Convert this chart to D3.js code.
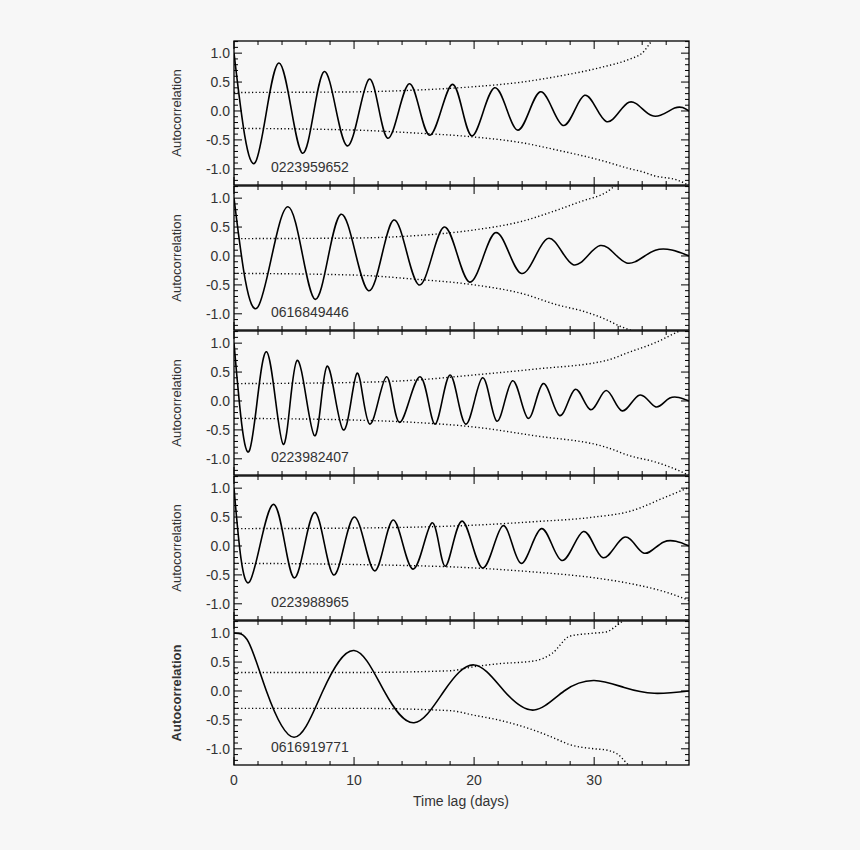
<!DOCTYPE html><html><head><meta charset="utf-8">
<script src="https://cdn.jsdelivr.net/npm/d3@7"></script>
<style>body{margin:0;background:#f7f7f7}svg{font-family:"Liberation Sans",Arial,sans-serif}</style></head><body>
<svg id="c" width="860" height="850"></svg>
<script>
const ids=["0223959652","0616849446","0223982407","0223988965","0616919771"];
const xTicks=[0,10,20,30], yTicks=[1.0,0.5,0.0,-0.5,-1.0];
// curve extrema [lag, acf]
const acf1=[[0,1],[1.8,-0.88],[3.75,0.83],[5.7,-0.73],[7.5,0.68],[9.4,-0.6],[11.25,0.55],[12.8,-0.47],[14.6,0.47],[16.3,-0.42],[18.2,0.46],[19.8,-0.43],[21.7,0.4],[23.6,-0.33],[25.5,0.33],[27.4,-0.25],[29.2,0.27],[31,-0.18],[32.9,0.15],[34.8,-0.08],[36.7,0.05],[37.9,0.0]];
const acf2=[[0,1],[2,-0.88],[4.5,0.85],[6.75,-0.75],[8.9,0.72],[11.2,-0.6],[13.3,0.62],[15.4,-0.5],[17.5,0.5],[19.6,-0.45],[21.75,0.4],[23.9,-0.3],[26.1,0.3],[28.25,-0.15],[30.5,0.18],[32.7,-0.12],[35.1,0.1],[37.9,0.0]];
const acf3=[[0,1],[1.3,-0.85],[2.7,0.85],[4.1,-0.75],[5.25,0.7],[6.7,-0.6],[7.75,0.6],[9.1,-0.5],[10.25,0.48],[11.3,-0.4],[12.7,0.42],[13.8,-0.37],[15.5,0.42],[16.75,-0.4],[18,0.45],[19.3,-0.4],[20.7,0.4],[21.9,-0.35],[23.2,0.35],[24.5,-0.3],[25.75,0.3],[27.1,-0.25],[28.4,0.2],[29.7,-0.15],[31,0.18],[32.3,-0.17],[33.75,0.1],[35.1,-0.1],[36.3,0.05],[37.9,0.0]];
const acf4=[[0,1],[1.3,-0.62],[3.3,0.72],[5,-0.55],[6.7,0.58],[8.3,-0.5],[10,0.5],[11.7,-0.43],[13.25,0.45],[14.9,-0.4],[16.5,0.4],[17.6,-0.35],[19,0.43],[20.7,-0.38],[22.4,0.35],[23.9,-0.3],[25.6,0.3],[27.3,-0.25],[29.1,0.25],[30.7,-0.2],[32.5,0.15],[34.1,-0.12],[35.8,0.07],[37.9,0.0]];
const acf5=[[0,1],[1.2,0.85],[2.7,0.0],[5,-0.8],[7.4,0.0],[10,0.7],[12.5,0.0],[15,-0.55],[17.5,0.0],[20,0.45],[22.5,0.0],[25,-0.33],[27.5,0.0],[30,0.18],[32.5,0.06],[35,-0.04],[37.9,0.0]];
// significance envelopes [lag, upper, lower]
const sig1=[[0,0.32,-0.3],[10,0.33,-0.33],[15,0.36,-0.38],[20,0.42,-0.45],[24,0.5,-0.55],[27,0.6,-0.68],[30.5,0.75,-0.85],[33,0.9,-1.0],[34,1.0,-1.05],[35,1.25,-1.12],[37,1.4,-1.2],[38,1.5,-1.3]];
const sig2=[[0,0.3,-0.3],[10,0.31,-0.33],[15,0.35,-0.4],[20,0.45,-0.5],[24,0.6,-0.65],[27,0.8,-0.85],[29,0.95,-0.95],[31,1.1,-1.1],[32,1.25,-1.2],[34,1.4,-1.35],[38,1.6,-1.5]];
const sig3=[[0,0.3,-0.3],[10,0.32,-0.33],[15,0.36,-0.37],[20,0.45,-0.45],[25,0.55,-0.6],[31,0.7,-0.8],[33,0.85,-0.95],[35,1.0,-1.05],[37,1.2,-1.2],[38,1.3,-1.3]];
const sig4=[[0,0.3,-0.3],[10,0.31,-0.32],[20,0.36,-0.38],[25,0.42,-0.45],[30,0.5,-0.55],[33,0.6,-0.65],[36,0.85,-0.8],[38,1.02,-0.95]];
const sig5=[[0,0.32,-0.3],[10,0.32,-0.3],[18,0.35,-0.34],[20,0.42,-0.42],[22,0.47,-0.5],[25,0.52,-0.68],[26.5,0.65,-0.8],[28,0.95,-0.93],[30,1.0,-1.0],[31,1.02,-1.02],[32,1.15,-1.1],[33,1.3,-1.3],[38,1.5,-1.6]];
const curves=[acf1,acf2,acf3,acf4,acf5], sigs=[sig1,sig2,sig3,sig4,sig5];

const svg=d3.select("#c");
const L=234,R=689,tops=[41,186,331,476,621],H=144;
const x=d3.scaleLinear().domain([0,37.9]).range([L,R]);
const clip=svg.append("defs");
const tc="#333";
tops.forEach((t,i)=>{
  const y=d3.scaleLinear().domain([-1.28,1.21]).range([t+H,t]);
  clip.append("clipPath").attr("id","cp"+i).append("rect").attr("x",L).attr("y",t).attr("width",R-L).attr("height",H);
  const g=svg.append("g");
  const pg=g.append("g").attr("clip-path",`url(#cp${i})`);
  pg.append("path").datum(curves[i]).attr("fill","none").attr("stroke","#000").attr("stroke-width",1.6)
    .attr("d",d3.line().x(d=>x(d[0])).y(d=>y(d[1])).curve(d3.curveNatural));
  [1,2].forEach(k=>pg.append("path").datum(sigs[i]).attr("fill","none").attr("stroke","#000").attr("stroke-width",1.4).attr("stroke-dasharray","1.2,2.4")
    .attr("d",d3.line().x(d=>x(d[0])).y(d=>y(d[k])).curve(d3.curveMonotoneX)));
  g.append("rect").attr("x",L).attr("y",t).attr("width",R-L).attr("height",H).attr("fill","none").attr("stroke","#000").attr("stroke-width",1.3);
  d3.range(-12,13).forEach(k=>{const v=k/10,maj=k%5===0,yy=y(v);const len=maj?8:4;
    g.append("line").attr("x1",L).attr("x2",L+len).attr("y1",yy).attr("y2",yy).attr("stroke","#000");
    g.append("line").attr("x1",R).attr("x2",R-len).attr("y1",yy).attr("y2",yy).attr("stroke","#000");});
  yTicks.forEach(v=>g.append("text").attr("x",L-4).attr("y",y(v)+5).attr("text-anchor","end").attr("font-size",14).attr("fill",tc).text(v.toFixed(1)));
  d3.range(0,38,2).forEach(v=>{const maj=v%10===0,len=maj?8:4,xx=x(v);
    g.append("line").attr("x1",xx).attr("x2",xx).attr("y1",t+H).attr("y2",t+H-len).attr("stroke","#000");
    g.append("line").attr("x1",xx).attr("x2",xx).attr("y1",t).attr("y2",t+len).attr("stroke","#000");});
  g.append("text").attr("transform",`translate(181,${t+H/2}) rotate(-90)`).attr("text-anchor","middle").attr("font-size",13).attr("fill",tc).attr("font-weight",i===4?"bold":"normal").text("Autocorrelation");
  g.append("text").attr("x",271).attr("y",t+131).attr("font-size",14).attr("fill",tc).text(ids[i]);
});
const yb=tops[4]+H;
xTicks.forEach(v=>svg.append("text").attr("x",x(v)).attr("y",yb+20).attr("text-anchor","middle").attr("font-size",14).attr("fill",tc).text(v));
svg.append("text").attr("x",461).attr("y",yb+41).attr("text-anchor","middle").attr("font-size",14).attr("fill",tc).text("Time lag (days)");
</script></body></html>
